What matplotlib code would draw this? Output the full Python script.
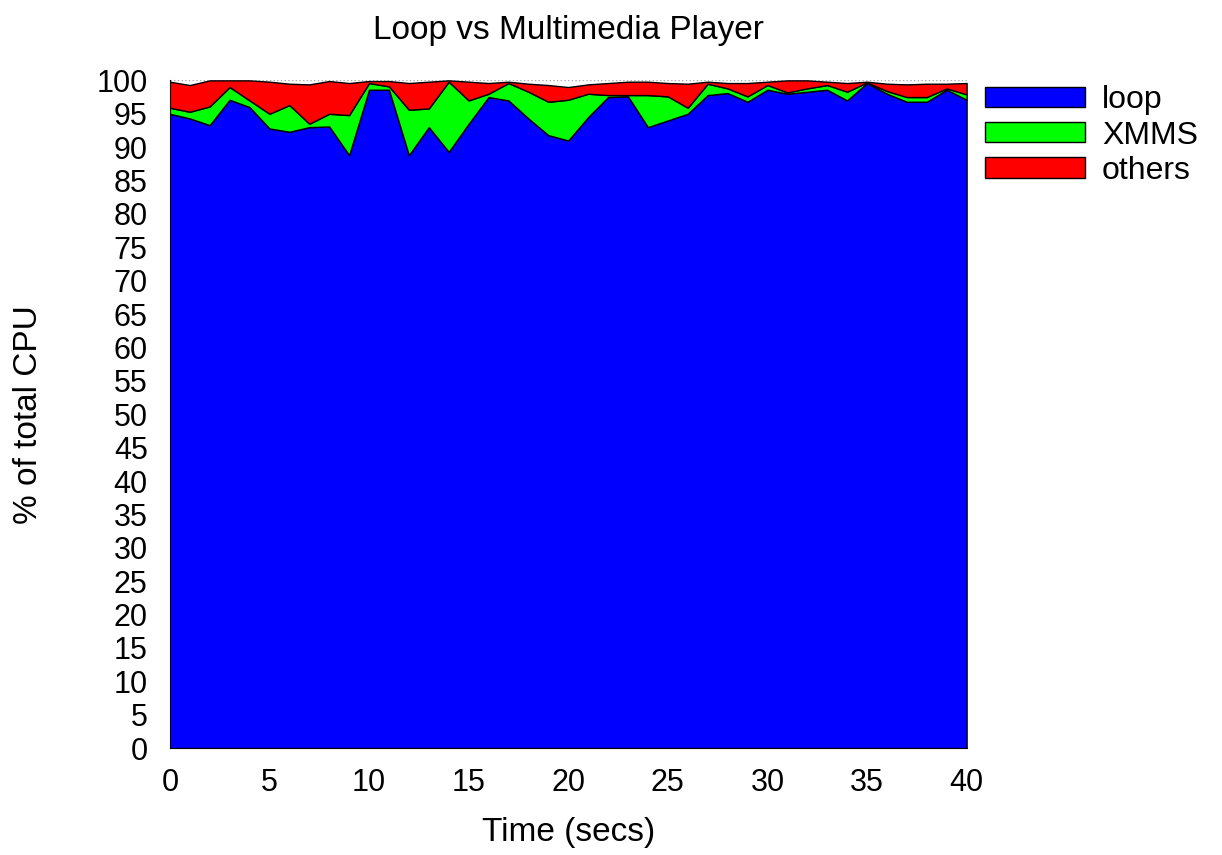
import numpy as np
import matplotlib.pyplot as plt

plt.rcParams['font.family'] = ['Liberation Sans', 'DejaVu Sans']

# time in seconds, one sample per second
secs = list(range(41))

# % of total CPU per process
loop = [95.0, 94.3, 93.3, 97.1, 96.0, 92.8, 92.3, 93.0, 93.1, 88.8,
        98.6, 98.6, 88.8, 93.0, 89.3, 93.5, 97.5, 97.0, 94.3, 91.8,
        91.0, 94.5, 97.5, 97.6, 93.0, 94.0, 95.0, 97.8, 98.1, 96.8,
        98.6, 98.0, 98.3, 98.6, 97.0, 99.6, 98.0, 96.8, 96.8, 98.6,
        97.1]
xmms = [0.9, 1.0, 2.8, 1.9, 1.0, 2.2, 4.0, 0.5, 1.9, 6.0,
        1.0, 0.5, 6.8, 2.8, 10.5, 3.5, 0.5, 2.6, 4.0, 5.0,
        6.1, 3.5, 0.3, 0.2, 4.8, 3.6, 0.9, 1.7, 0.7, 0.8,
        0.7, 0.2, 0.5, 0.7, 1.3, 0.1, 0.4, 0.7, 0.7, 0.2,
        0.8]
others = [3.9, 4.0, 3.9, 1.0, 3.0, 4.8, 3.2, 5.9, 4.9, 4.8,
          0.3, 0.8, 4.0, 4.0, 0.2, 2.8, 1.6, 0.2, 1.2, 2.5,
          1.9, 1.4, 1.8, 2.0, 2.0, 2.0, 3.6, 0.3, 0.8, 2.0,
          0.5, 1.8, 1.2, 0.5, 1.3, 0.1, 1.1, 1.9, 2.0, 0.7,
          1.7]

labels = ['loop', 'XMMS', 'others']
colors = ['#0000ff', '#00ff00', '#ff0000']

fig = plt.figure(figsize=(12.22, 8.55), dpi=100)
ax = fig.add_axes([0.139, 0.125, 0.652, 0.781])

polys = ax.stackplot(secs, loop, xmms, others, labels=labels, colors=colors,
                     edgecolor='black', linewidth=1.0)

ax.set_xlim(0, 40)
ax.set_ylim(0, 100)
ax.set_xticks(range(0, 41, 5))
ax.set_yticks(range(0, 101, 5))
ax.tick_params(axis='both', labelsize=22, length=0)
ax.tick_params(axis='x', pad=14)
ax.tick_params(axis='y', pad=16)

for side in ['right', 'top']:
    ax.spines[side].set_visible(False)
ax.axhline(100, color='#aaaaaa', linestyle=':', linewidth=1, zorder=0)

ax.set_title('Loop vs Multimedia Player', fontsize=24, pad=30)
ax.set_xlabel('Time (secs)', fontsize=24, labelpad=14)
ax.set_ylabel('% of total CPU', fontsize=24, labelpad=38)

fig.legend(handles=polys, labels=labels, loc='upper left',
           bbox_to_anchor=(0.796, 0.915), frameon=False, fontsize=23,
           handlelength=3.1, handleheight=0.6, labelspacing=0.16,
           handletextpad=0.55, borderaxespad=0)

fig.savefig('out.png', dpi=100)
